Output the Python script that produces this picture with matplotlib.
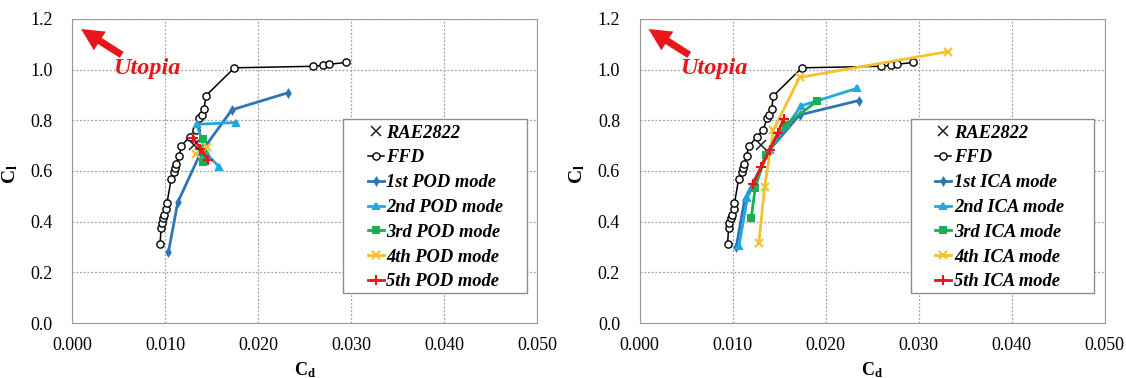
import matplotlib
matplotlib.use("Agg")
import matplotlib.pyplot as plt
from matplotlib.patches import Rectangle

plt.rcParams["font.family"] = "serif"
plt.rcParams["font.serif"] = ["Liberation Serif", "DejaVu Serif"]
plt.rcParams["mathtext.fontset"] = "custom"
plt.rcParams["mathtext.rm"] = "Liberation Serif"
plt.rcParams["mathtext.bf"] = "Liberation Serif:bold"

# baseline airfoil
rae_cd = [0.0131]
rae_cl = [0.701]

# FFD front
ffd_cd = [0.00946, 0.00957, 0.00964, 0.00978, 0.00993, 0.0101, 0.0102, 0.01065,
          0.0110, 0.0111, 0.0112, 0.0115, 0.01176, 0.01265, 0.0133, 0.0137,
          0.01394, 0.0142, 0.0144, 0.01745, 0.02595, 0.0270, 0.02767, 0.02943]
ffd_cl = [0.310, 0.374, 0.396, 0.413, 0.426, 0.449, 0.472, 0.567,
          0.595, 0.613, 0.626, 0.659, 0.699, 0.735, 0.762, 0.809,
          0.822, 0.846, 0.897, 1.007, 1.013, 1.017, 1.021, 1.028]

# POD modes
pod1_cd = [0.01036, 0.01136, 0.0138, 0.01717, 0.02326]
pod1_cl = [0.279, 0.476, 0.670, 0.841, 0.909]
pod2_cd = [0.0158, 0.0145, 0.0134, 0.0176]
pod2_cl = [0.617, 0.665, 0.784, 0.791]
pod3_cd = [0.0141, 0.0141, 0.0141]
pod3_cl = [0.635, 0.685, 0.725]
pod4_cd = [0.01333, 0.0139, 0.01448]
pod4_cl = [0.667, 0.682, 0.696]
pod5_cd = [0.01305, 0.0138, 0.01466]
pod5_cl = [0.729, 0.688, 0.643]

# ICA modes
ica1_cd = [0.0104, 0.01129, 0.01398, 0.0172, 0.02358]
ica1_cl = [0.301, 0.486, 0.683, 0.821, 0.878]
ica2_cd = [0.0107, 0.0116, 0.01398, 0.01738, 0.02337]
ica2_cl = [0.305, 0.495, 0.683, 0.857, 0.926]
ica3_cd = [0.0120, 0.01244, 0.01355, 0.0157, 0.0191]
ica3_cl = [0.413, 0.534, 0.663, 0.782, 0.876]
ica4_cd = [0.01283, 0.01344, 0.0144, 0.0172, 0.03315]
ica4_cl = [0.315, 0.536, 0.762, 0.969, 1.071]
ica5_cd = [0.01219, 0.01308, 0.01398, 0.01487, 0.01548]
ica5_cl = [0.547, 0.617, 0.683, 0.751, 0.805]

x_ticks = [0.0, 0.01, 0.02, 0.03, 0.04, 0.05]
y_ticks = [0.0, 0.2, 0.4, 0.6, 0.8, 1.0, 1.2]

colors = ["#2E75B6", "#1FA9DE", "#1AAF54", "#F7C030", "#E8161B"]
markers = ["d", "^", "s", "x", "+"]
msizes = [3.5, 4.5, 4.5, 6, 6.5]
ordinals = ["1st", "2nd", "3rd", "4th", "5th"]


def draw(ax, modes, tag):
    ax.plot(rae_cd, rae_cl, ls="none", marker="x", color="#222222", ms=7, mew=1.1,
            label="RAE2822", zorder=6)
    ax.plot(ffd_cd, ffd_cl, color="black", lw=1.1, marker="o", ms=5.2,
            mfc="white", mec="black", mew=1.0, label="FFD", zorder=3)
    for i, (cd, cl) in enumerate(modes):
        ax.plot(cd, cl, color=colors[i], lw=2.0, marker=markers[i],
                ms=msizes[i], mew=1.5, label=f"{ordinals[i]} {tag} mode", zorder=4)

    ax.set_xlim(0, 0.05)
    ax.set_ylim(0, 1.2)
    ax.set_xticks(x_ticks)
    ax.set_yticks(y_ticks)
    ax.set_xticklabels([f"{v:.3f}" for v in x_ticks], fontsize=13)
    ax.set_yticklabels([f"{v:.1f}" for v in y_ticks], fontsize=13)
    ax.tick_params(axis="x", length=0, pad=10)
    ax.tick_params(axis="y", length=0, pad=14)
    ax.grid(True, ls=(0, (1.5, 1.5)), color="#A0A0A0", lw=0.9)
    for s in ax.spines.values():
        s.set_color("#9A9A9A")
    ax.set_xlabel(r"$\mathbf{C_d}$", fontsize=13)
    ax.set_ylabel(r"$\mathbf{C_l}$", fontsize=14)
    ax.xaxis.set_label_coords(0.5, -0.122)
    ax.yaxis.set_label_coords(-0.113, 0.49)

    ax.annotate("", xy=(0.00097, 1.160), xytext=(0.00534, 1.058),
                arrowprops=dict(arrowstyle="simple,head_length=1.0,head_width=1.0,tail_width=0.32",
                                mutation_scale=16, color="#E8161B", lw=0,
                                shrinkA=0, shrinkB=0))
    ax.text(0.0044, 1.005, "Utopia", color="#E8161B",
            fontsize=17.5, fontweight="bold", style="italic", va="center")

    # legend frame drawn as a box so the padding matches
    ax.add_patch(Rectangle((0.583, 0.099), 0.395, 0.572, transform=ax.transAxes,
                           facecolor="white", edgecolor="#8C8C8C", lw=1.0, zorder=7))
    leg = ax.legend(loc="upper left", bbox_to_anchor=(0.636, 0.652),
                    prop=dict(size=13.3, weight="bold", style="italic"),
                    handlelength=0.85, handletextpad=0.15, labelspacing=0.42,
                    borderpad=0, borderaxespad=0, frameon=False)
    leg.set_zorder(8)


fig = plt.figure(figsize=(11.26, 3.78), dpi=100)
ax1 = fig.add_axes([0.064, 0.1455, 0.413, 0.8045])
ax2 = fig.add_axes([0.568, 0.1455, 0.413, 0.8045])

draw(ax1, [(pod1_cd, pod1_cl), (pod2_cd, pod2_cl), (pod3_cd, pod3_cl),
           (pod4_cd, pod4_cl), (pod5_cd, pod5_cl)], "POD")
draw(ax2, [(ica1_cd, ica1_cl), (ica2_cd, ica2_cl), (ica3_cd, ica3_cl),
           (ica4_cd, ica4_cl), (ica5_cd, ica5_cl)], "ICA")

fig.savefig("out.png", dpi=100)
